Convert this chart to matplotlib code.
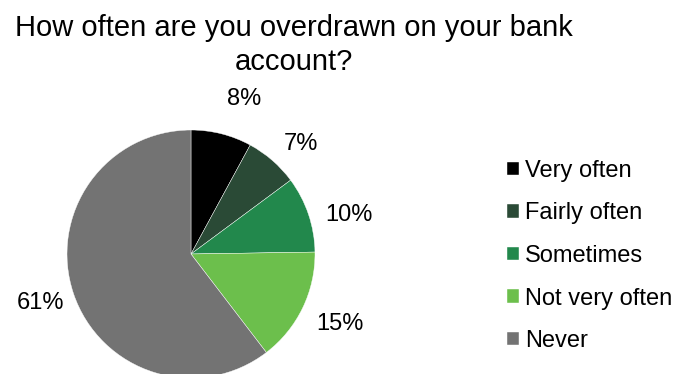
import matplotlib.pyplot as plt
from matplotlib.transforms import offset_copy

# Survey answers, share of respondents in percent
categories = ["Very often", "Fairly often", "Sometimes", "Not very often", "Never"]
shares = [8, 7, 10, 15, 61]
colors = ["#000000", "#2a4a36", "#22884c", "#6cbf4c", "#737373"]
# nudges (in pixels, x right / y up) for the percentage labels
label_nudge = [(13, -1), (4, -12), (5, -13), (4, 0), (2, 3)]

plt.rcParams["font.family"] = ["Liberation Sans", "DejaVu Sans"]

fig = plt.figure(figsize=(6.75, 3.74), dpi=100)
fig.text(0.436, (374 - 45) / 374, "How often are you overdrawn on your bank\naccount?",
         ha="center", va="center", fontsize=21, linespacing=1.25)

# Pie occupies a square area on the left side of the figure
ax = fig.add_axes([67 / 675, -4 / 374, 248 / 675, 248 / 374])
wedges, texts = ax.pie(shares, colors=colors, startangle=90, counterclock=False,
                       labels=[f"{v}%" for v in shares], labeldistance=1.3,
                       wedgeprops={"edgecolor": "white", "linewidth": 0.3},
                       textprops={"fontsize": 17})
for t, (dx, dy) in zip(texts, label_nudge):
    t.set_ha("center")
    t.set_va("center")
    t.set_transform(offset_copy(ax.transData, fig=fig, x=dx, y=dy, units="dots"))
ax.set_xlim(-1, 1)
ax.set_ylim(-1, 1)
ax.set_aspect("equal")

fig.legend(wedges, categories, loc="center left",
           bbox_to_anchor=(507 / 675, (374 - 256) / 374),
           frameon=False, fontsize=17, handlelength=0.5, handleheight=0.5,
           handletextpad=0.25, labelspacing=0.87, borderpad=0, borderaxespad=0)

fig.savefig("out.png", dpi=100)
